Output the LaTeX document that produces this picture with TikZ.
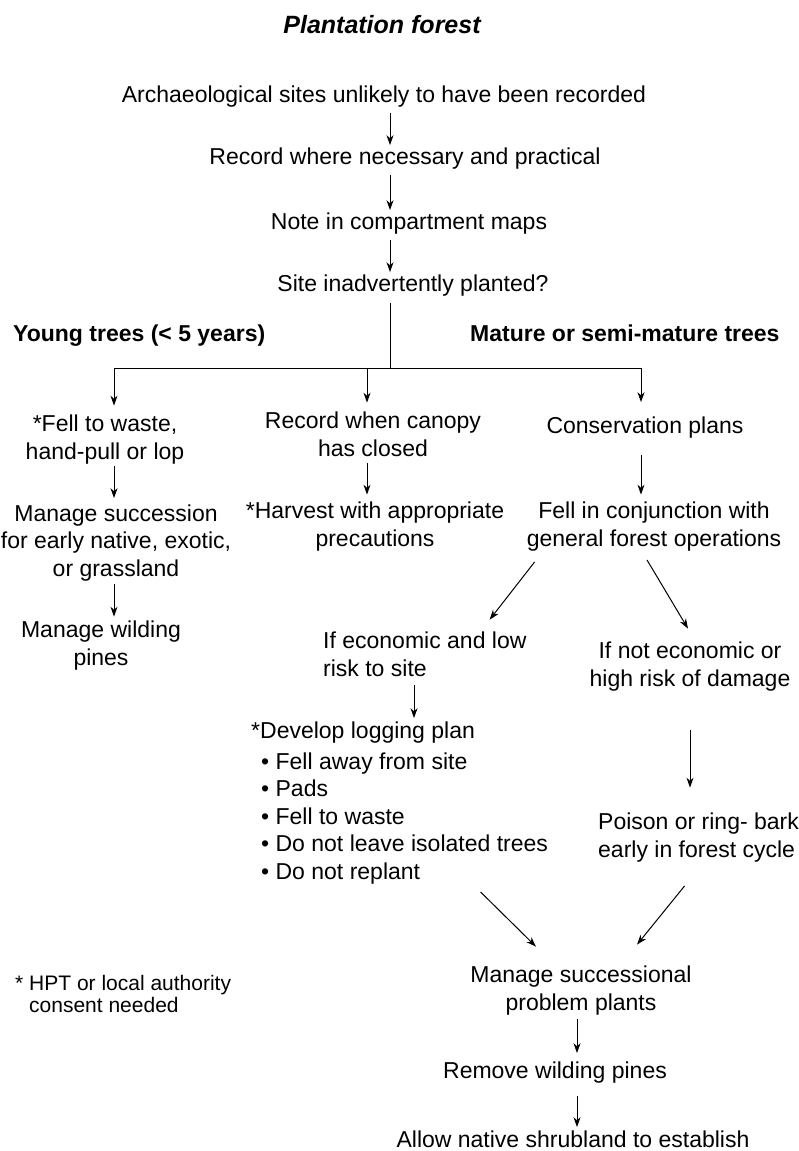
\documentclass[tikz,border=0pt]{standalone}
\usepackage{fontspec}
\setmainfont{Liberation Sans}
\usetikzlibrary{arrows.meta}

\begin{document}
\begin{tikzpicture}[x=1pt, y=-1pt,
  every node/.style={inner sep=0pt, anchor=base, font=\fontsize{23}{27.5}\selectfont},
  head/.style={anchor=base west, font=\fontsize{23}{27.5}\selectfont\bfseries},
  foot/.style={anchor=base west, align=left, font=\fontsize{21}{22}\selectfont},
  arr/.style={-{Stealth[length=10pt,width=7pt]}, line width=1pt},
  link/.style={line width=1pt}]

 \useasboundingbox (0,0) rectangle (798,1151);

 %%%  nodes
 % (multi-line nodes sit on the baseline of their last line)

 % main column
 \node [font=\fontsize{25}{30}\selectfont\bfseries\itshape] (title) at (382,33) {Plantation forest};
 \node (arch) at (384,102) {Archaeological sites unlikely to have been recorded};
 \node (rec) at (405,164) {Record where necessary and practical};
 \node (note) at (409,229) {Note in compartment maps};
 \node (site) at (413,291) {Site inadvertently planted?};

 % branch headings
 \node [head] (young) at (13,341) {Young trees (< 5 years)};
 \node [head] (mature) at (470,341) {Mature or semi-mature trees};

 % column coordinates
 \coordinate (trunk) at (390,368);
 \coordinate (colL) at (114,368);
 \coordinate (colM) at (367,368);
 \coordinate (colR) at (641,368);
 \coordinate (colE) at (414,0);
 \coordinate (colP) at (690,0);
 \coordinate (colB) at (577,0);

 % young trees
 \node [align=center] (fell) at (105,459) {*Fell to waste,\\hand-pull or lop};
 \node [align=center] (succ) at (116,576) {Manage succession\\for early native, exotic,\\or grassland};
 \node [align=center] (wild) at (101,665) {Manage wilding\\pines};

 % record when closed
 \node [align=center] (canopy) at (373,456) {Record when canopy\\has closed};
 \node [align=center] (harv) at (375,546) {*Harvest with appropriate\\precautions};

 % mature trees
 \node (cons) at (645,433) {Conservation plans};
 \node [align=center] (conj) at (654,546) {Fell in conjunction with\\general forest operations};
 \node [anchor=base west, align=left] (econ) at (323,676) {If economic and low\\risk to site};
 \node [align=center] (noecon) at (690,686) {If not economic or\\high risk of damage};
 \node [anchor=base west] (logplan) at (251,738) {*Develop logging plan};
 \node [anchor=base west, align=left] (bullets) at (261,879)
   {\textbullet\ Fell away from site\\\textbullet\ Pads\\\textbullet\ Fell to waste\\\textbullet\ Do not leave isolated trees\\\textbullet\ Do not replant};
 \node [anchor=base west, align=left] (poison) at (598,857) {Poison or ring- bark\\early in forest cycle};

 % end of chain
 \node [align=center] (mgmt) at (581,1010) {Manage successional\\problem plants};
 \node (remove) at (555,1078) {Remove wilding pines};
 \node (allow) at (573,1147) {Allow native shrubland to establish};

 % footnote
 \node [foot] (fnote) at (15,1012) {* HPT or local authority\\\hphantom{* }consent needed};

 %%%  connectors

 \draw [arr, shorten <=6pt, shorten >=2pt] (arch.south -| trunk) -- (rec.north -| trunk);
 \draw [arr, shorten <=6pt, shorten >=2pt] (rec.south -| trunk) -- (note.north -| trunk);
 \draw [arr, shorten <=6pt, shorten >=2pt] (note.south -| trunk) -- (site.north -| trunk);
 \draw [link, shorten <=7pt] (site.south -| trunk) -- (trunk);
 \draw [link] (colL) -- (colR);

 \draw [arr, shorten >=9pt] (colL) -- (fell.north -| colL);
 \draw [arr, shorten >=9pt] (colM) -- (canopy.north -| colM);
 \draw [arr, shorten >=14pt] (colR) -- (cons.north -| colR);

 \draw [arr, shorten <=2pt, shorten >=6pt] (fell.south -| colL) -- (succ.north -| colL);
 \draw [arr, shorten <=3pt, shorten >=4pt] (succ.south -| colL) -- (wild.north -| colL);
 \draw [arr, shorten <=7pt, shorten >=7pt] (canopy.south -| colM) -- (harv.north -| colM);
 \draw [arr, shorten <=17pt, shorten >=7pt] (cons.south -| colR) -- (conj.north -| colR);

 \draw [arr] ([xshift=8pt, yshift=-11pt]conj.south west) -- ([xshift=-37pt, yshift=12pt]econ.north east);
 \draw [arr] ([xshift=-7pt, yshift=-9pt]conj.south) -- ([xshift=-2pt, yshift=13pt]noecon.north);
 \draw [arr, shorten <=9pt, shorten >=3pt] (econ.south -| colE) -- (logplan.north -| colE);
 \draw [arr, shorten <=39pt, shorten >=25pt] (noecon.south -| colP) -- (poison.north -| colP);

 \draw [arr] ([xshift=76pt, yshift=-8pt]bullets.south) -- ([xshift=-45pt, yshift=19pt]mgmt.north);
 \draw [arr] ([xshift=-14pt, yshift=-24pt]poison.south) -- ([xshift=56pt, yshift=21pt]mgmt.north);
 \draw [arr, shorten <=4pt, shorten >=8pt] (mgmt.south -| colB) -- (remove.north -| colB);
 \draw [arr, shorten <=13pt, shorten >=3pt] (remove.south -| colB) -- (allow.north -| colB);

\end{tikzpicture}
\end{document}
